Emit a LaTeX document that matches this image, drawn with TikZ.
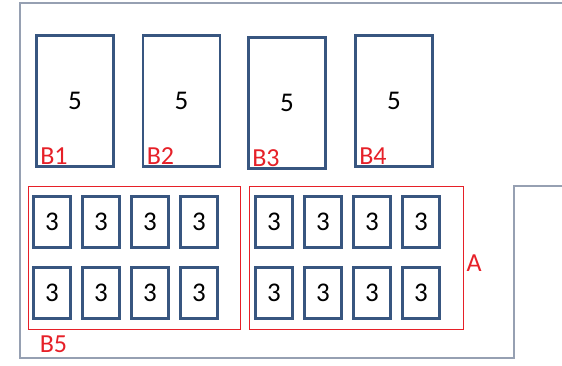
\documentclass[tikz,border=0pt]{standalone}
\usepackage{fontspec}
\setmainfont{Carlito}
\usetikzlibrary{positioning}
\definecolor{boxblue}{RGB}{56,86,128}
\definecolor{labelred}{RGB}{230,32,40}
\definecolor{framegray}{RGB}{150,160,178}

\tikzset{
  bigbox/.style={rectangle, draw=boxblue, line width=2.8pt, fill=white,
                 minimum width=77pt, minimum height=131pt, inner sep=0pt,
                 font=\fontsize{27}{30}\selectfont},
  cellbox/.style={rectangle, draw=boxblue, line width=2.8pt, fill=white,
                  minimum width=37pt, minimum height=51pt, inner sep=0pt,
                  font=\fontsize{27}{30}\selectfont},
  groupbox/.style={rectangle, draw=labelred, line width=0.9pt,
                   minimum height=143pt, inner sep=0pt},
  tag/.style={text=labelred, inner sep=0pt, font=\fontsize{26}{29}\selectfont}
}

\begin{document}
\begin{tikzpicture}[x=1pt,y=-1pt]
  \useasboundingbox (0,0) rectangle (562,366);

  % outer outline
  \draw[framegray, line width=1.3pt]
    (562,3) -- (20,3) -- (20,358) -- (514,358) -- (514,186) -- (562,186);

  % the four big blocks
  \node[bigbox] (b1) at (75,101) {5};
  \node[bigbox] (b2) at (181.5,101) {5};
  \node[bigbox] (b3) at (287,103) {5};
  \node[bigbox] (b4) at (394,101) {5};
  \foreach \i in {1,...,4}
    \node[tag, above right=3pt and 5pt of b\i.south west] (t\i) {B\i};

  % the two groups of cells
  \node[groupbox, minimum width=212pt] (g5) at (134,257.5) {};
  \node[groupbox, minimum width=214pt] (ga) at (356,257.5) {};

  \foreach \c [count=\n] in {0,49,98,147} {
    \node[cellbox] (l1\n) at (52+\c,222) {3};
    \node[cellbox] (l2\n) at (52+\c,293) {3};
    \node[cellbox] (r1\n) at (274+\c,222) {3};
    \node[cellbox] (r2\n) at (274+\c,293) {3};
  }

  \node[tag, below right=6pt and 12pt of g5.south west] (t5) {B5};
  \node[tag, right=3pt of ga.east, yshift=-6pt] (tA) {A};
\end{tikzpicture}
\end{document}
